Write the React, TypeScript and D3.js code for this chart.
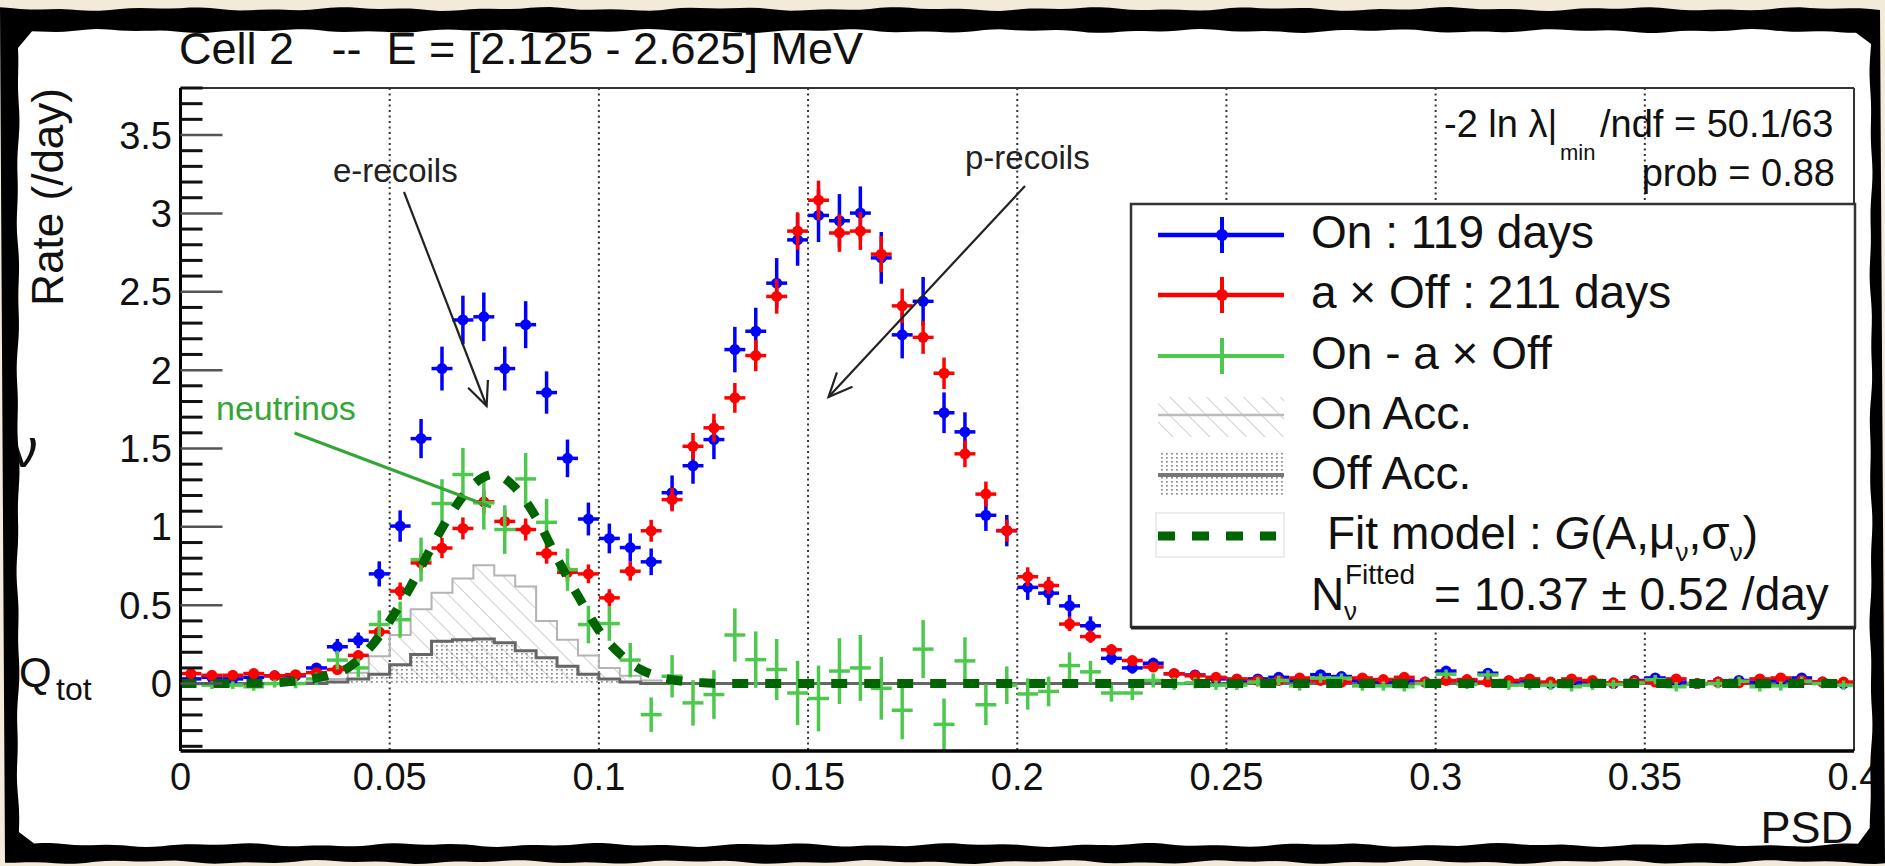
import React from 'react';
import * as d3 from 'd3';

const W = 1885;
const H = 866;
const FONT = "'Liberation Sans', Arial, Helvetica, sans-serif";

// PSD histogram: 80 bins of 0.005 from 0 to 0.4
const binWidth = 0.005;
const nBins = 80;

// On : 119 days (rate /day per bin)
const onRate = [
  0.03, 0.04, 0.03, 0.04, 0.05, 0.05, 0.10, 0.235, 0.276, 0.70,
  1.005, 1.563, 2.01, 2.32, 2.34, 2.01, 2.29, 1.857, 1.437, 1.05,
  0.926, 0.868, 0.777, 1.218, 1.39, 1.557, 2.131, 2.248, 2.555, 2.831,
  2.987, 2.953, 3.002, 2.716, 2.225, 2.439, 1.728, 1.606, 1.074, 0.976,
  0.614, 0.577, 0.496, 0.369, 0.161, 0.10, 0.13, 0.063, 0.055, 0.03,
  0.02, 0.03, 0.04, 0.02, 0.057, 0.045, 0.02, 0.01, 0.02, 0.01,
  0.08, 0.02, 0.066, 0.01, 0.02, 0.0, 0.01, 0.01, 0.0, 0.02,
  0.036, 0.01, 0.0, 0.01, 0.02, 0.01, 0.02, 0.036, 0.01, 0.0,
];
const onErr = [
  0.02, 0.02, 0.02, 0.02, 0.02, 0.025, 0.03, 0.05, 0.05, 0.08,
  0.10, 0.125, 0.14, 0.155, 0.155, 0.14, 0.15, 0.135, 0.12, 0.105,
  0.095, 0.09, 0.085, 0.11, 0.115, 0.125, 0.145, 0.15, 0.16, 0.165,
  0.17, 0.17, 0.17, 0.165, 0.15, 0.155, 0.13, 0.125, 0.10, 0.10,
  0.08, 0.075, 0.07, 0.06, 0.04, 0.035, 0.035, 0.03, 0.025, 0.02,
  0.02, 0.02, 0.02, 0.02, 0.02, 0.02, 0.02, 0.02, 0.02, 0.02,
  0.02, 0.02, 0.02, 0.02, 0.02, 0.02, 0.02, 0.02, 0.02, 0.02,
  0.02, 0.02, 0.02, 0.02, 0.02, 0.02, 0.02, 0.02, 0.02, 0.02,
];

// a x Off : 211 days
const offRate = [
  0.064, 0.053, 0.053, 0.064, 0.05, 0.057, 0.07, 0.09, 0.18, 0.33,
  0.59, 0.77, 0.865, 0.99, 1.16, 1.035, 0.983, 0.83, 0.71, 0.70,
  0.547, 0.717, 0.975, 1.174, 1.514, 1.632, 1.823, 2.093, 2.47, 2.887,
  3.084, 2.875, 2.887, 2.74, 2.41, 2.209, 1.98, 1.466, 1.209, 0.976,
  0.682, 0.626, 0.38, 0.30, 0.216, 0.147, 0.106, 0.063, 0.05, 0.04,
  0.03, 0.02, 0.02, 0.036, 0.02, 0.01, 0.036, 0.026, 0.04, 0.01,
  0.02, 0.026, 0.01, 0.02, 0.03, 0.01, 0.03, 0.02, 0.005, 0.015,
  0.01, 0.03, 0.0, 0.01, 0.005, 0.03, 0.036, 0.02, 0.01, 0.01,
];
const offErr = [
  0.015, 0.015, 0.015, 0.015, 0.015, 0.015, 0.02, 0.02, 0.03, 0.04,
  0.055, 0.06, 0.065, 0.07, 0.075, 0.07, 0.07, 0.065, 0.06, 0.06,
  0.055, 0.06, 0.07, 0.075, 0.085, 0.09, 0.095, 0.10, 0.11, 0.12,
  0.125, 0.12, 0.12, 0.115, 0.11, 0.105, 0.10, 0.085, 0.08, 0.07,
  0.06, 0.055, 0.045, 0.04, 0.035, 0.03, 0.025, 0.02, 0.02, 0.015,
  0.015, 0.015, 0.015, 0.015, 0.015, 0.015, 0.015, 0.015, 0.015, 0.015,
  0.015, 0.015, 0.015, 0.015, 0.015, 0.015, 0.015, 0.015, 0.015, 0.015,
  0.015, 0.015, 0.015, 0.015, 0.015, 0.015, 0.015, 0.015, 0.015, 0.015,
];

// On - a x Off
const diffRate = [
  0.0, -0.01, -0.01, -0.02, 0.0, 0.0, 0.03, 0.15, 0.10, 0.377,
  0.408, 0.791, 1.149, 1.334, 1.153, 0.983, 1.306, 1.029, 0.727, 0.377,
  0.383, 0.15, -0.198, 0.047, -0.123, -0.07, 0.31, 0.153, 0.09, -0.06,
  -0.095, 0.08, 0.10, -0.03, -0.17, 0.22, -0.26, 0.145, -0.135, -0.01,
  -0.066, -0.05, 0.115, 0.075, -0.06, -0.06, 0.02, 0.0, 0.005, -0.01,
  -0.01, 0.01, 0.02, -0.015, 0.035, 0.035, -0.015, -0.015, -0.02, 0.0,
  0.06, -0.005, 0.055, -0.01, -0.01, -0.01, -0.02, -0.01, -0.005, 0.005,
  0.025, -0.02, 0.0, 0.0, 0.015, -0.02, -0.015, 0.015, 0.0, -0.01,
];
const diffErr = [
  0.025, 0.025, 0.025, 0.025, 0.025, 0.03, 0.04, 0.06, 0.06, 0.09,
  0.115, 0.14, 0.155, 0.17, 0.17, 0.155, 0.165, 0.15, 0.135, 0.12,
  0.11, 0.11, 0.11, 0.135, 0.145, 0.155, 0.17, 0.18, 0.195, 0.205,
  0.21, 0.21, 0.21, 0.2, 0.185, 0.185, 0.165, 0.15, 0.13, 0.12,
  0.10, 0.095, 0.085, 0.07, 0.055, 0.045, 0.045, 0.04, 0.035, 0.03,
  0.03, 0.03, 0.03, 0.03, 0.03, 0.03, 0.03, 0.03, 0.03, 0.03,
  0.03, 0.03, 0.03, 0.03, 0.03, 0.03, 0.03, 0.03, 0.03, 0.03,
  0.03, 0.03, 0.03, 0.03, 0.03, 0.03, 0.03, 0.03, 0.03, 0.03,
];

// accidental backgrounds, bins 0..24 (zero beyond)
const onAcc = [
  0, 0, 0, 0, 0, 0, 0.01, 0.03, 0.07, 0.175,
  0.31, 0.475, 0.58, 0.67, 0.755, 0.69, 0.62, 0.40, 0.28, 0.18,
  0.10, 0.05, 0.02, 0, 0,
];
const offAcc = [
  0, 0, 0, 0, 0, 0, 0, 0.01, 0.03, 0.06,
  0.12, 0.185, 0.27, 0.28, 0.285, 0.26, 0.21, 0.165, 0.11, 0.06,
  0.03, 0.01, 0, 0, 0,
];

// fit model G(A, mu, sigma)
const fitPsd = [0, 0.02, 0.025, 0.03, 0.035, 0.04, 0.045, 0.05, 0.055, 0.06, 0.065, 0.07, 0.075,
  0.08, 0.085, 0.09, 0.095, 0.1, 0.105, 0.11, 0.115, 0.12, 0.125, 0.13, 0.4];
const fitRate = [0, 0.003, 0.01, 0.025, 0.05, 0.10, 0.22, 0.40, 0.62, 0.87, 1.10, 1.27, 1.335,
  1.25, 1.06, 0.80, 0.56, 0.34, 0.19, 0.09, 0.04, 0.015, 0.005, 0, 0];

const xTicks = [0, 0.05, 0.1, 0.15, 0.2, 0.25, 0.3, 0.35, 0.4];
const xTickLabels = ['0', '0.05', '0.1', '0.15', '0.2', '0.25', '0.3', '0.35', '0.4'];
const gridPsd = [0.05, 0.1, 0.15, 0.2, 0.25, 0.3, 0.35];
const yTicks = [0, 0.5, 1, 1.5, 2, 2.5, 3, 3.5];
const yTickLabels = ['0', '0.5', '1', '1.5', '2', '2.5', '3', '3.5'];

const BLUE = '#0000ff';
const RED = '#ff0000';
const LGREEN = '#4cc94c';
const DGREEN = '#006400';

const x = d3.scaleLinear().domain([0, 0.4]).range([180.5, 1854]);
const y = d3.scaleLinear().domain([-0.43, 3.8]).range([751, 88]);

const histPath = (vals: number[]) => {
  const pts = d3.range(nBins + 1).map((k) => [k * binWidth, vals[Math.min(k, nBins - 1)] ?? 0]);
  return d3.line().x((d) => x(d[0])).y((d) => y(d[1])).curve(d3.curveStepAfter)(pts as [number, number][]);
};
const histArea = (vals: number[]) => {
  const pts = d3.range(nBins + 1).map((k) => [k * binWidth, vals[Math.min(k, nBins - 1)] ?? 0]);
  return d3.area().x((d) => x(d[0])).y0(y(0)).y1((d) => y(d[1])).curve(d3.curveStepAfter)(pts as [number, number][]);
};

const fitPath = d3.line<number>()
  .x((_, i) => x(fitPsd[i]))
  .y((d) => y(d))
  .curve(d3.curveMonotoneX)(fitRate);

// torn paper edge
const wob = (t: number, a: number, s: number) =>
  a * (0.6 * Math.sin(t / 29 + s) + 0.4 * Math.sin(t / 11 + 2.3 * s));

function paperPath() {
  const p: string[] = [];
  for (let t = 32; t <= 1858; t += 8) p.push(`${t},${31 + wob(t, 2, 1)}`);
  for (let t = 44; t <= 832; t += 8) p.push(`${1871 + wob(t, 1.5, 2)},${t}`);
  for (let t = 1858; t >= 32; t -= 8) p.push(`${t},${845 + wob(t, 2, 3)}`);
  for (let t = 832; t >= 44; t -= 8) p.push(`${18 + wob(t, 1.5, 4)},${t}`);
  return 'M' + p.join('L') + 'Z';
}
function outerPath() {
  const p: string[] = [];
  for (let t = 0; t <= W; t += 10) p.push(`${t},${9 + wob(t, 2, 5)}`);
  for (let t = W; t >= 0; t -= 10) p.push(`${t},${862 + wob(t, 2, 6)}`);
  return 'M' + p.join('L') + 'Z';
}

function Points({ rate, err, color, marker }: { rate: number[]; err: number[]; color: string; marker: boolean }) {
  return (
    <g>
      {rate.map((v, k) => {
        const c = (k + 0.5) * binWidth;
        const cx = x(c);
        const cy = y(v);
        return (
          <g key={k}>
            <line x1={x(c - binWidth / 2)} x2={x(c + binWidth / 2)} y1={cy} y2={cy} stroke={color} strokeWidth={3.5} />
            <line x1={cx} x2={cx} y1={y(v - err[k])} y2={y(v + err[k])} stroke={color} strokeWidth={3.5} />
            {marker && <circle cx={cx} cy={cy} r={5.5} fill={color} />}
          </g>
        );
      })}
    </g>
  );
}

function Arrow({ x1, y1, x2, y2, color, w }: { x1: number; y1: number; x2: number; y2: number; color: string; w: number }) {
  const a = Math.atan2(y2 - y1, x2 - x1);
  const L = 26;
  const h1 = [x2 - L * Math.cos(a - 0.42), y2 - L * Math.sin(a - 0.42)];
  const h2 = [x2 - L * Math.cos(a + 0.42), y2 - L * Math.sin(a + 0.42)];
  return (
    <g stroke={color} strokeWidth={w} fill="none">
      <line x1={x1} y1={y1} x2={x2} y2={y2} />
      <polyline points={`${h1[0]},${h1[1]} ${x2},${y2} ${h2[0]},${h2[1]}`} />
    </g>
  );
}

export default function App() {
  const x0 = x(0);
  const x1 = x(0.4);
  const yTop = y(3.8);
  const yBot = y(-0.43);
  const minor = d3.range(-4, 39).map((i) => i / 10).filter((v) => Math.abs(v * 2 - Math.round(v * 2)) > 1e-6);

  const lgX1 = 1158;
  const lgX2 = 1284;
  const lgC = 1222;

  return (
    <svg width={W} height={H} style={{ position: 'absolute', left: 0, top: 0, display: 'block' }} fontFamily={FONT}>
      <defs>
        <pattern id="hatch" width="13" height="13" patternUnits="userSpaceOnUse" patternTransform="rotate(-45)">
          <line x1="0" y1="0" x2="0" y2="13" stroke="#c4c4c4" strokeWidth="1.6" />
        </pattern>
        <pattern id="dots" width="5" height="4" patternUnits="userSpaceOnUse">
          <rect x="1" y="1" width="1.8" height="1.6" fill="#8a8a8a" />
        </pattern>
      </defs>

      <rect width={W} height={H} fill="#f3ead9" />
      <path d={paperPath()} fill="#ffffff" />

      {/* vertical dotted grid */}
      {gridPsd.map((g) => (
        <line key={g} x1={x(g)} x2={x(g)} y1={yTop} y2={yBot} stroke="#333" strokeWidth={2} strokeDasharray="2 3.5" />
      ))}

      {/* accidental histograms */}
      <path d={histArea(onAcc) ?? ''} fill="url(#hatch)" />
      <path d={histPath(onAcc) ?? ''} fill="none" stroke="#b4b4b4" strokeWidth={2} />
      <path d={histArea(offAcc) ?? ''} fill="url(#dots)" />
      <path d={histPath(offAcc) ?? ''} fill="none" stroke="#666" strokeWidth={3} />

      <Points rate={onRate} err={onErr} color={BLUE} marker />
      <Points rate={offRate} err={offErr} color={RED} marker />
      <Points rate={diffRate} err={diffErr} color={LGREEN} marker={false} />

      <path d={fitPath ?? ''} fill="none" stroke={DGREEN} strokeWidth={9} strokeDasharray="16 17" />

      {/* frame */}
      <line x1={x0} x2={x1} y1={yTop} y2={yTop} stroke="#333" strokeWidth={2} />
      <line x1={x1} x2={x1} y1={yTop} y2={yBot} stroke="#333" strokeWidth={2} />
      <line x1={x0} x2={x1} y1={yBot} y2={yBot} stroke="#000" strokeWidth={3.5} />
      <line x1={x0} x2={x0} y1={yTop} y2={yBot} stroke="#000" strokeWidth={3} />

      {/* y ticks */}
      {minor.map((v) => (
        <line key={v} x1={x0} x2={x0 + 22} y1={y(v)} y2={y(v)} stroke="#111" strokeWidth={3} />
      ))}
      {yTicks.map((v) => (
        <line key={v} x1={x0} x2={x0 + 42} y1={y(v)} y2={y(v)} stroke="#555" strokeWidth={2.5} />
      ))}
      {yTicks.map((v, i) => (
        <text key={v} x={172} y={y(v) + 13.5} textAnchor="end" fontSize={38} fill="#111">{yTickLabels[i]}</text>
      ))}
      {xTicks.map((v, i) => (
        <text key={v} x={x(v)} y={790} textAnchor="middle" fontSize={38} fill="#111">{xTickLabels[i]}</text>
      ))}

      {/* annotations */}
      <text x={333} y={182} fontSize={33} fill="#222">e-recoils</text>
      <Arrow x1={404} y1={192} x2={486.6} y2={406} color="#222" w={2.2} />
      <text x={965} y={169} fontSize={33} fill="#222">p-recoils</text>
      <Arrow x1={1025} y1={186} x2={828.5} y2={397} color="#222" w={2.2} />
      <text x={216} y={420} fontSize={34} fill="#35a535">neutrinos</text>
      <line x1={294.6} y1={433} x2={491} y2={507} stroke="#35a535" strokeWidth={3} />

      {/* fit statistics */}
      <text x={1444} y={137} fontSize={38} fill="#111">-2 ln λ|</text>
      <text x={1560} y={160} fontSize={22} fill="#111">min</text>
      <text x={1600} y={137} fontSize={38} fill="#111">/ndf = 50.1/63</text>
      <text x={1835} y={186} fontSize={38} fill="#111" textAnchor="end">prob = 0.88</text>

      {/* legend */}
      <rect x={1131} y={204} width={724} height={423} fill="#fff" stroke="#333" strokeWidth={2.5} />
      <line x1={1131} x2={1856} y1={628} y2={628} stroke="#222" strokeWidth={3} />

      <line x1={lgX1} x2={lgX2} y1={235} y2={235} stroke={BLUE} strokeWidth={4.5} />
      <line x1={lgC} x2={lgC} y1={217} y2={253} stroke={BLUE} strokeWidth={4} />
      <circle cx={lgC} cy={235} r={6} fill={BLUE} />
      <line x1={lgX1} x2={lgX2} y1={295} y2={295} stroke={RED} strokeWidth={4.5} />
      <line x1={lgC} x2={lgC} y1={277} y2={313} stroke={RED} strokeWidth={4} />
      <circle cx={lgC} cy={295} r={6} fill={RED} />
      <line x1={lgX1} x2={lgX2} y1={356} y2={356} stroke={LGREEN} strokeWidth={4} />
      <line x1={lgC} x2={lgC} y1={338} y2={374} stroke={LGREEN} strokeWidth={4} />
      <rect x={lgX1} y={397} width={lgX2 - lgX1} height={40} fill="url(#hatch)" />
      <line x1={lgX1} x2={lgX2} y1={415} y2={415} stroke="#bbb" strokeWidth={2.5} />
      <rect x={lgX1} y={453} width={lgX2 - lgX1} height={44} fill="url(#dots)" />
      <line x1={lgX1} x2={lgX2} y1={475} y2={475} stroke="#777" strokeWidth={4} />
      <rect x={1156} y={513} width={128} height={44} fill="none" stroke="#e6e6e6" strokeWidth={1.5} />
      <line x1={lgX1} x2={1276} y1={536} y2={536} stroke={DGREEN} strokeWidth={9} strokeDasharray="17 17" />

      <g fontSize={46} fill="#111">
        <text x={1311} y={248}>On : 119 days</text>
        <text x={1311} y={308}>a × Off : 211 days</text>
        <text x={1311} y={369}>On - a × Off</text>
        <text x={1311} y={429}>On Acc.</text>
        <text x={1311} y={489}>Off Acc.</text>
        <text x={1327} y={549}>
          Fit model : <tspan fontStyle="italic">G</tspan>(A,μ
          <tspan fontSize={26} dy={12}>ν</tspan>
          <tspan dy={-12}>,σ</tspan>
          <tspan fontSize={26} dy={12}>ν</tspan>
          <tspan dy={-12}>)</tspan>
        </text>
        <text x={1311} y={610}>N</text>
        <text x={1344} y={620} fontSize={26}>ν</text>
        <text x={1345} y={584} fontSize={28}>Fitted</text>
        <text x={1434} y={610}>= 10.37 ± 0.52 /day</text>
      </g>

      {/* titles */}
      <text x={179} y={64} fontSize={45} fill="#111" style={{ whiteSpace: 'pre' }}>Cell 2   --  E = [2.125 - 2.625] MeV</text>
      <text transform="translate(63,88) rotate(-90)" textAnchor="end" fontSize={44} fill="#111">Rate (/day)</text>
      <text x={1853} y={843} textAnchor="end" fontSize={45} fill="#111">PSD</text>

      {/* fragments of the neighbouring panel */}
      <text x={10} y={467} fontSize={56} fill="#111">ν</text>
      <text x={19} y={687} fontSize={42} fill="#111">Q</text>
      <text x={56} y={700} fontSize={32} fill="#111">tot</text>

      {/* torn black border */}
      <path d={outerPath() + ' ' + paperPath()} fill="#000" fillRule="evenodd" />
    </svg>
  );
}
